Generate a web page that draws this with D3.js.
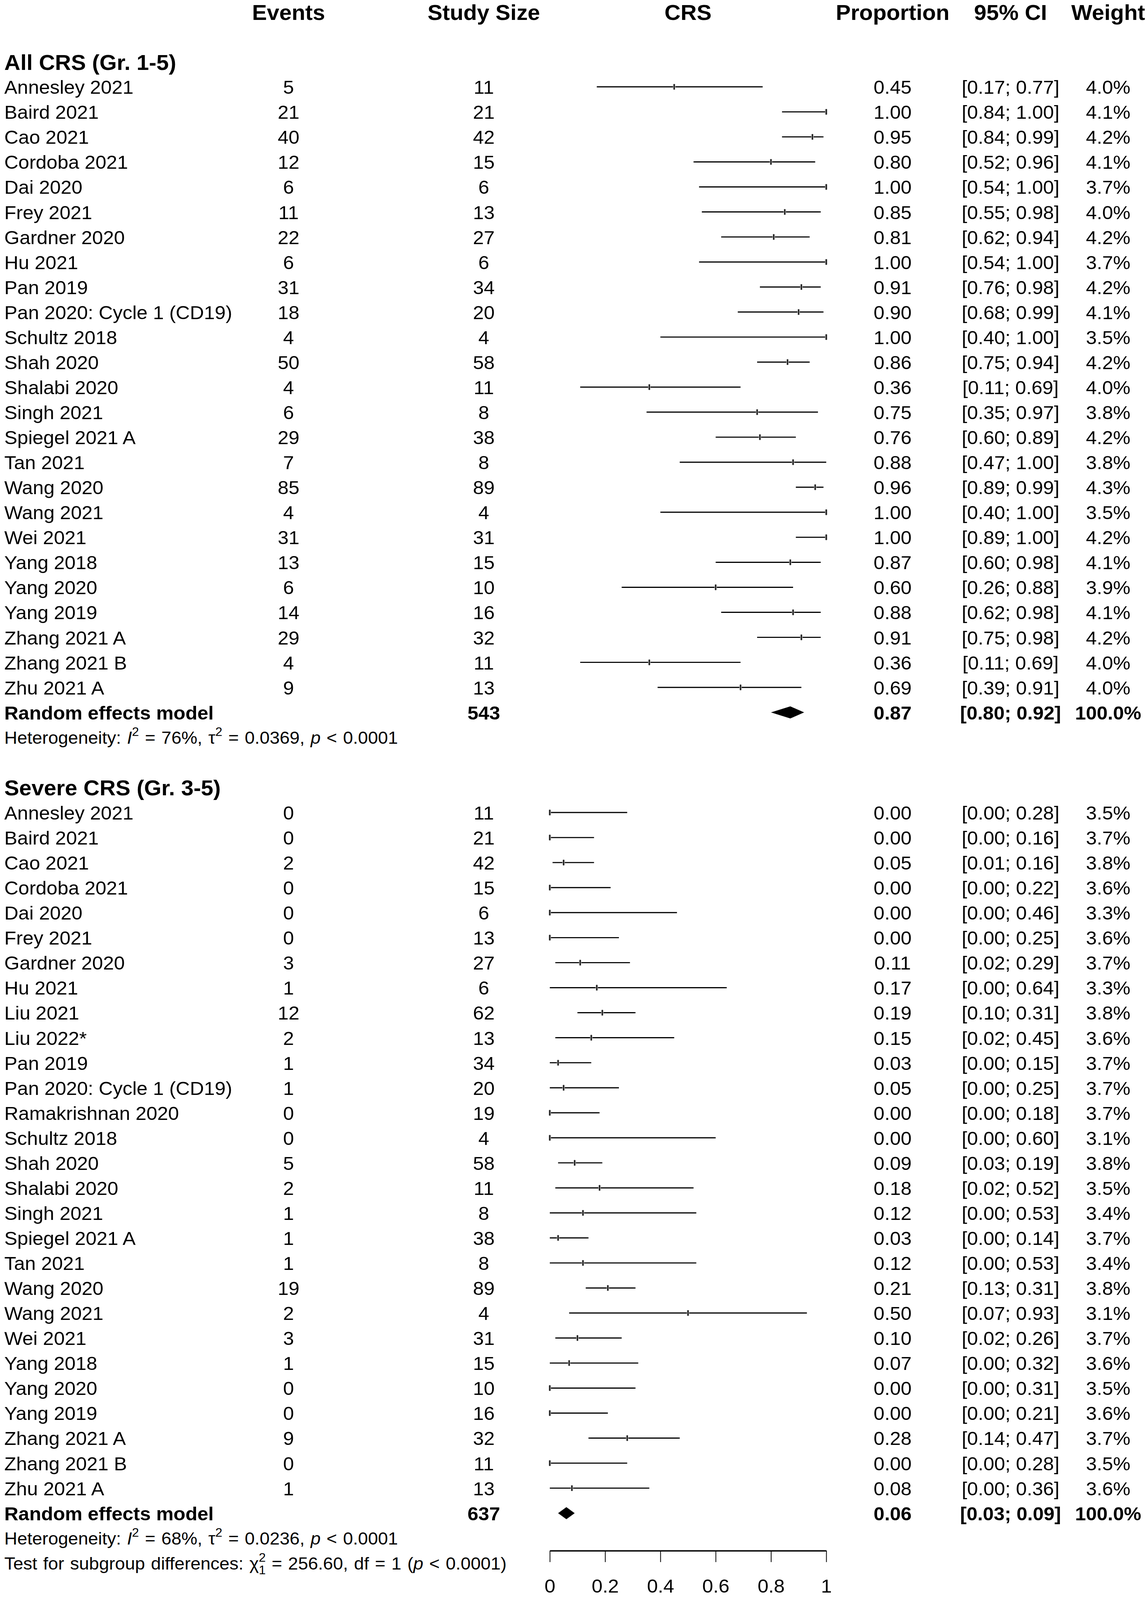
<!DOCTYPE html>
<html>
<head>
<meta charset="utf-8">
<script src="https://cdn.jsdelivr.net/npm/d3@7"></script>
<style>
  html, body { margin: 0; padding: 0; background: #fff; overflow: hidden; }
  svg { display: block; }
  text { font-family: "Liberation Sans", Arial, sans-serif; fill: #000; }
</style>
</head>
<body>
<script>
// forest plot: proportion of CRS, two subgroups

var width = 2940;
var height = 4220;

var headers = ['Events', 'Study Size', 'CRS', 'Proportion', '95% CI', 'Weight'];
var ticks = [0, 0.2, 0.4, 0.6, 0.8, 1];

// All CRS (Gr. 1-5)
var names1 = ['Annesley 2021', 'Baird 2021', 'Cao 2021', 'Cordoba 2021', 'Dai 2020', 'Frey 2021',
  'Gardner 2020', 'Hu 2021', 'Pan 2019', 'Pan 2020: Cycle 1 (CD19)', 'Schultz 2018', 'Shah 2020',
  'Shalabi 2020', 'Singh 2021', 'Spiegel 2021 A', 'Tan 2021', 'Wang 2020', 'Wang 2021', 'Wei 2021',
  'Yang 2018', 'Yang 2020', 'Yang 2019', 'Zhang 2021 A', 'Zhang 2021 B', 'Zhu 2021 A'];
var events1 = [5, 21, 40, 12, 6, 11, 22, 6, 31, 18, 4, 50, 4, 6, 29, 7, 85, 4, 31, 13, 6, 14, 29, 4, 9];
var size1 = [11, 21, 42, 15, 6, 13, 27, 6, 34, 20, 4, 58, 11, 8, 38, 8, 89, 4, 31, 15, 10, 16, 32, 11, 13];
var prop1 = [0.45, 1.00, 0.95, 0.80, 1.00, 0.85, 0.81, 1.00, 0.91, 0.90, 1.00, 0.86, 0.36, 0.75, 0.76,
  0.88, 0.96, 1.00, 1.00, 0.87, 0.60, 0.88, 0.91, 0.36, 0.69];
var lo1 = [0.17, 0.84, 0.84, 0.52, 0.54, 0.55, 0.62, 0.54, 0.76, 0.68, 0.40, 0.75, 0.11, 0.35, 0.60,
  0.47, 0.89, 0.40, 0.89, 0.60, 0.26, 0.62, 0.75, 0.11, 0.39];
var hi1 = [0.77, 1.00, 0.99, 0.96, 1.00, 0.98, 0.94, 1.00, 0.98, 0.99, 1.00, 0.94, 0.69, 0.97, 0.89,
  1.00, 0.99, 1.00, 1.00, 0.98, 0.88, 0.98, 0.98, 0.69, 0.91];
var weight1 = ['4.0%', '4.1%', '4.2%', '4.1%', '3.7%', '4.0%', '4.2%', '3.7%', '4.2%', '4.1%', '3.5%',
  '4.2%', '4.0%', '3.8%', '4.2%', '3.8%', '4.3%', '3.5%', '4.2%', '4.1%', '3.9%', '4.1%', '4.2%',
  '4.0%', '4.0%'];
var pooled1 = { n: 543, est: 0.87, lo: 0.80, hi: 0.92 };

// Severe CRS (Gr. 3-5)
var names2 = ['Annesley 2021', 'Baird 2021', 'Cao 2021', 'Cordoba 2021', 'Dai 2020', 'Frey 2021',
  'Gardner 2020', 'Hu 2021', 'Liu 2021', 'Liu 2022*', 'Pan 2019', 'Pan 2020: Cycle 1 (CD19)',
  'Ramakrishnan 2020', 'Schultz 2018', 'Shah 2020', 'Shalabi 2020', 'Singh 2021', 'Spiegel 2021 A',
  'Tan 2021', 'Wang 2020', 'Wang 2021', 'Wei 2021', 'Yang 2018', 'Yang 2020', 'Yang 2019',
  'Zhang 2021 A', 'Zhang 2021 B', 'Zhu 2021 A'];
var events2 = [0, 0, 2, 0, 0, 0, 3, 1, 12, 2, 1, 1, 0, 0, 5, 2, 1, 1, 1, 19, 2, 3, 1, 0, 0, 9, 0, 1];
var size2 = [11, 21, 42, 15, 6, 13, 27, 6, 62, 13, 34, 20, 19, 4, 58, 11, 8, 38, 8, 89, 4, 31, 15, 10,
  16, 32, 11, 13];
var prop2 = [0.00, 0.00, 0.05, 0.00, 0.00, 0.00, 0.11, 0.17, 0.19, 0.15, 0.03, 0.05, 0.00, 0.00, 0.09,
  0.18, 0.12, 0.03, 0.12, 0.21, 0.50, 0.10, 0.07, 0.00, 0.00, 0.28, 0.00, 0.08];
var lo2 = [0.00, 0.00, 0.01, 0.00, 0.00, 0.00, 0.02, 0.00, 0.10, 0.02, 0.00, 0.00, 0.00, 0.00, 0.03,
  0.02, 0.00, 0.00, 0.00, 0.13, 0.07, 0.02, 0.00, 0.00, 0.00, 0.14, 0.00, 0.00];
var hi2 = [0.28, 0.16, 0.16, 0.22, 0.46, 0.25, 0.29, 0.64, 0.31, 0.45, 0.15, 0.25, 0.18, 0.60, 0.19,
  0.52, 0.53, 0.14, 0.53, 0.31, 0.93, 0.26, 0.32, 0.31, 0.21, 0.47, 0.28, 0.36];
var weight2 = ['3.5%', '3.7%', '3.8%', '3.6%', '3.3%', '3.6%', '3.7%', '3.3%', '3.8%', '3.6%', '3.7%',
  '3.7%', '3.7%', '3.1%', '3.8%', '3.5%', '3.4%', '3.7%', '3.4%', '3.8%', '3.1%', '3.7%', '3.6%',
  '3.5%', '3.6%', '3.7%', '3.5%', '3.6%'];
var pooled2 = { n: 637, est: 0.06, lo: 0.03, hi: 0.09 };

var het1 = [['Heterogeneity: ', ''], ['I', 'i'], ['2', 'sup'], [' = 76%, ', ''], ['\u03c4', ''], ['2', 'sup'],
  [' = 0.0369, ', ''], ['p', 'i'], [' < 0.0001', '']];
var het2 = [['Heterogeneity: ', ''], ['I', 'i'], ['2', 'sup'], [' = 68%, ', ''], ['\u03c4', ''], ['2', 'sup'],
  [' = 0.0236, ', ''], ['p', 'i'], [' < 0.0001', '']];
var subgroupTest = [['Test for subgroup differences: ', ''], ['\u03c7', ''], ['2', 'sup'], ['1', 'sub'],
  [' = 256.60, df = 1 (', ''], ['p', 'i'], [' < 0.0001)', '']];

// column centres
var col = { name: 11, events: 739, size: 1239, crs: 1762, prop: 2286, ci: 2588, weight: 2838 };

var x = d3.scaleLinear().domain([0, 1]).range([1408, 2116]);
var row = d3.scaleLinear().domain([0, 62]).range([31, 31 + 62 * 66]);

// the window can be shorter than the drawing, so stretch the drawing onto it
var svg = d3.select('body').append('svg')
  .attr('width', window.innerWidth || width)
  .attr('height', window.innerHeight || height)
  .attr('viewBox', '0 0 ' + width + ' ' + height)
  .attr('preserveAspectRatio', 'none');

svg.append('rect').attr('width', width).attr('height', height).attr('fill', '#fff');

var fmt = d3.format('.2f');

var addText = function(str, xPos, k, opts) {
  opts = opts || {};
  return svg.append('text')
    .attr('x', xPos)
    .attr('y', row(k) + (opts.size || 50) * 0.37)
    .attr('text-anchor', opts.anchor || 'middle')
    .attr('font-size', opts.size || 50)
    .attr('font-weight', opts.bold ? 'bold' : null)
    .text(str);
};

// rich text with italics, superscripts and subscripts
var addRich = function(parts, k) {
  var t = svg.append('text')
    .attr('x', col.name)
    .attr('y', row(k) + 17)
    .attr('font-size', 46)
    .attr('word-spacing', 2.5);
  var shift = 0;
  parts.forEach(function(p) {
    var s = t.append('tspan').text(p[0]);
    if (p[1] === 'i') s.attr('font-style', 'italic');
    if (p[1] === 'sup') {
      s.attr('font-size', 32).attr('dy', -21 - shift);
      shift = -21;
    } else if (p[1] === 'sub') {
      s.attr('font-size', 32).attr('dx', -18).attr('dy', 12 - shift);
      shift = 12;
    } else if (shift !== 0) {
      s.attr('dy', -shift);
      shift = 0;
    }
  });
};

// header row
headers.forEach(function(h, i) {
  var keys = ['events', 'size', 'crs', 'prop', 'ci', 'weight'];
  addText(h, col[keys[i]], 0, { size: 57, bold: true });
});

var drawGroup = function(title, start, names, events, size, prop, lo, hi, weight, pooled, het) {
  addText(title, col.name, start, { size: 57, bold: true, anchor: 'start' });

  var data = names.map(function(n, i) {
    return { name: n, events: events[i], size: size[i], prop: prop[i], lo: lo[i], hi: hi[i],
      weight: weight[i], k: start + 1 + i };
  });

  data.forEach(function(d) {
    addText(d.name, col.name, d.k, { anchor: 'start' });
    addText(d.events, col.events, d.k);
    addText(d.size, col.size, d.k);
    addText(fmt(d.prop), col.prop, d.k);
    addText('[' + fmt(d.lo) + '; ' + fmt(d.hi) + ']', col.ci, d.k);
    addText(d.weight, col.weight, d.k);
  });

  var g = svg.append('g');
  g.selectAll('line.ci').data(data).enter().append('line')
    .attr('x1', function(d) { return x(d.lo); })
    .attr('x2', function(d) { return x(d.hi); })
    .attr('y1', function(d) { return row(d.k); })
    .attr('y2', function(d) { return row(d.k); })
    .attr('stroke', '#000')
    .attr('stroke-width', 3);

  g.selectAll('rect.sq').data(data).enter().append('rect')
    .attr('x', function(d) { return x(d.prop) - 3; })
    .attr('y', function(d) { return row(d.k) - 7; })
    .attr('width', 6)
    .attr('height', 14)
    .attr('fill', '#aaa');

  g.selectAll('line.est').data(data).enter().append('line')
    .attr('x1', function(d) { return x(d.prop); })
    .attr('x2', function(d) { return x(d.prop); })
    .attr('y1', function(d) { return row(d.k) - 7.5; })
    .attr('y2', function(d) { return row(d.k) + 7.5; })
    .attr('stroke', '#000')
    .attr('stroke-width', 2.5);

  // pooled estimate
  var pk = start + names.length + 1;
  addText('Random effects model', col.name, pk, { bold: true, anchor: 'start' });
  addText(pooled.n, col.size, pk, { bold: true });
  addText(fmt(pooled.est), col.prop, pk, { bold: true });
  addText('[' + fmt(pooled.lo) + '; ' + fmt(pooled.hi) + ']', col.ci, pk, { bold: true });
  addText('100.0%', col.weight, pk, { bold: true });

  var yc = row(pk);
  svg.append('path')
    .attr('d', d3.line()([[x(pooled.lo), yc], [x(pooled.est), yc - 16], [x(pooled.hi), yc],
      [x(pooled.est), yc + 16]]) + 'Z')
    .attr('fill', '#000');

  addRich(het, pk + 1);
};

drawGroup('All CRS (Gr. 1-5)', 2, names1, events1, size1, prop1, lo1, hi1, weight1, pooled1, het1);
drawGroup('Severe CRS (Gr. 3-5)', 31, names2, events2, size2, prop2, lo2, hi2, weight2, pooled2, het2);
addRich(subgroupTest, 62);

// x axis
var axis = svg.append('g')
  .attr('transform', 'translate(0,4090)')
  .call(d3.axisBottom(x).tickValues(ticks).tickFormat(d3.format('~g'))
    .tickSize(30).tickSizeOuter(0).tickPadding(45));

axis.select('.domain').attr('stroke-width', 3.5).attr('stroke', '#000');
axis.selectAll('.tick line').attr('stroke-width', 2).attr('stroke', '#000');
axis.selectAll('.tick text')
  .attr('font-size', 50)
  .attr('font-family', '"Liberation Sans", Arial, sans-serif')
  .attr('fill', '#000');
</script>
</body>
</html>
